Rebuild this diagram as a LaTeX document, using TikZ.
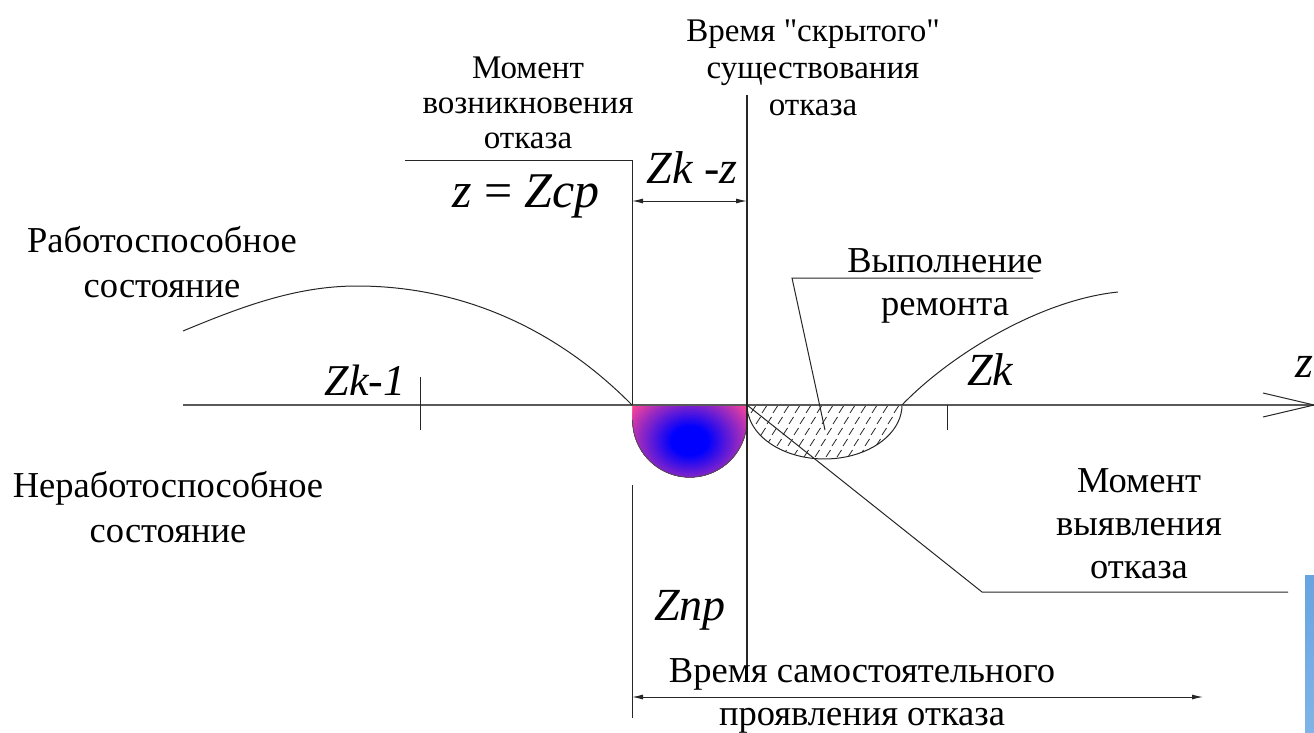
\documentclass[tikz,border=0pt]{standalone}
\usepackage{fontspec}
\setmainfont{Liberation Serif}[Ligatures=TeXOff]
\usetikzlibrary{arrows.meta}
\definecolor{ballpink}{RGB}{255,70,150}
\definecolor{barblue}{RGB}{104,164,224}
\definecolor{barblue2}{RGB}{128,180,232}
\begin{document}
\begin{tikzpicture}[x=1pt,y=-1pt,
  thinline/.style={line width=1pt, black!85},
  axisline/.style={line width=2pt, black!65},
  lbl/.style={font=\fontsize{36.5}{45}\selectfont, align=center, anchor=base, inner sep=0pt},
  toplbl/.style={lbl, font=\fontsize{33}{35}\selectfont},
  var/.style={font=\fontsize{46}{50}\selectfont\itshape, anchor=base, inner sep=0pt},
  dimarrow/.style={{Latex[length=11pt,width=5pt]}-{Latex[length=11pt,width=5pt]}, line width=1pt, black!85}]
\useasboundingbox (0,0) rectangle (1314,733);
% coordinates
\coordinate (axs) at (183,405);
\coordinate (axe) at (1314,405);
\coordinate (ah1) at (1263,393);
\coordinate (ah2) at (1263,417);
\coordinate (vlTop) at (632,160);
\coordinate (vlAx) at (632,405);
\coordinate (vlLow) at (632,485);
\coordinate (vlBot) at (632,718);
\coordinate (vrTop) at (747,95);
\coordinate (vrAx) at (747,405);
\coordinate (vrBot) at (747,682);
\coordinate (ldrL) at (405,160);
\coordinate (dimL) at (632,201);
\coordinate (dimR) at (747,201);
\coordinate (bdimL) at (632,697);
\coordinate (bdimR) at (1203,697);
\coordinate (t1a) at (420,377);
\coordinate (t1b) at (420,430);
\coordinate (t2a) at (947,405);
\coordinate (t2b) at (947,430);
\coordinate (vypR) at (1033,278);
\coordinate (vypL) at (792,278);
\coordinate (vypP) at (825,430);
\coordinate (myK) at (982,592);
\coordinate (myE) at (1288,592);
\coordinate (ballc) at (690,441);
% hatched region
\begin{scope}
\clip plot[domain=180:360, samples=40] ({824.5+77.5*cos(\x)}, {405-54*sin(\x)}) -- cycle;
\foreach \r in {0,...,5}
  \foreach \c in {0,...,16}
    \draw[line width=0.8pt, black!85] ({740+\c*11+\r*5},{413+\r*11}) -- ++(4.5,-7);
\end{scope}
\draw[thinline] plot[domain=180:360, samples=40] ({824.5+77.5*cos(\x)}, {405-54*sin(\x)});
% shaded failure half-disc
\begin{scope}
\clip (632.5,405) -- (632.5,420) -- plot[domain=180:360, samples=40] ({689.75+57.25*cos(\x)}, {420-57.25*sin(\x)}) -- (747,405) -- cycle;
\foreach \d in {62,60.5,...,1} {
  \pgfmathtruncatemacro\p{max(0,min(100,(\d-15)/43*100))}
  \fill[color=ballpink!\p!blue] (ballc) ellipse[x radius=1.25*\d, y radius=\d];
}
\end{scope}
\draw[line width=0.8pt, black!70] (632.5,420) -- plot[domain=180:360, samples=40] ({689.75+57.25*cos(\x)}, {420-57.25*sin(\x)});
% axis
\draw[axisline] (axs) -- (axe);
\draw[thinline] (ah1) -- (axe) -- (ah2);
% curves
\draw[thinline] (183,331) .. controls (243,306) and (297,286) .. (357,286) .. controls (457,286) and (553,325) .. (vlAx);
\draw[thinline] (902,405) .. controls (950,355) and (1040,300) .. (1118,292);
% verticals and leaders
\draw[thinline] (ldrL) -- (vlTop) -- (vlAx);
\draw[thinline] (vlLow) -- (vlBot);
\draw[line width=1.3pt, black!85] (vrTop) -- (vrBot);
\draw[dimarrow] (dimL) -- (dimR);
\draw[dimarrow] (bdimL) -- (bdimR);
\draw[thinline] (t1a) -- (t1b);
\draw[thinline] (t2a) -- (t2b);
\draw[thinline] (vypR) -- (vypL) -- (vypP);
\draw[thinline] (vrAx) -- (myK) -- (myE);
% blue bar
\shade[top color=barblue, bottom color=barblue2] (1305,575) rectangle (1314,733);
% labels (anchor = baseline of the last line)
\node[toplbl] (mvozn) at (528,148) {Момент\\возникновения\\отказа};
\node[toplbl, font=\fontsize{33}{37}\selectfont] (vrskr) at (813,116) {Время "скрытого"\\существования\\отказа};
\node[var, font=\fontsize{50}{54}\selectfont\itshape] (zcp) at (526,207) {z {\upshape=} Zcp};
\node[var] (zkz) at (692,183) {Zk -z};
\node[lbl] (rab) at (162,297) {Работоспособное\\состояние};
\node[lbl] (nerab) at (168,542) {Неработоспособное\\состояние};
\node[var, font=\fontsize{44}{48}\selectfont\itshape] (zk1) at (365,395) {Zk-1};
\node[var] (zk) at (990,385) {Zk};
\node[var] (zlab) at (1304,377) {z};
\node[lbl, font=\fontsize{36.5}{43}\selectfont] (vyp) at (945,315) {Выполнение\\ремонта};
\node[lbl, font=\fontsize{36.5}{43}\selectfont] (mvyav) at (1139,578) {Момент\\выявления\\отказа};
\node[var] (znp) at (690,620) {Znp};
\node[lbl, font=\fontsize{36.5}{43}\selectfont] (vrsam) at (862,725) {Время самостоятельного\\проявления отказа};
\end{tikzpicture}
\end{document}
